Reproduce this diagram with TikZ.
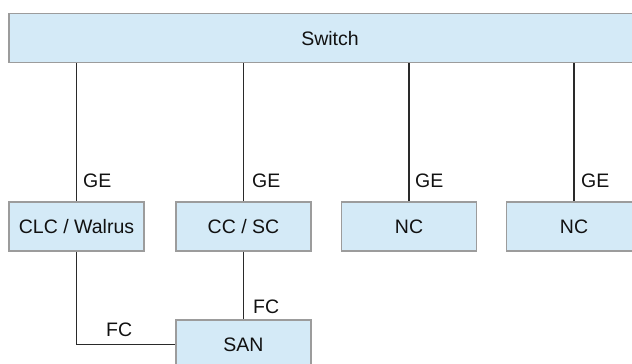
\documentclass[tikz,border=0pt]{standalone}
\usepackage{fontspec}
\setmainfont{Liberation Sans}
\definecolor{boxfill}{HTML}{D4EAF7}
\definecolor{boxline}{HTML}{9C9C9C}
\definecolor{wire}{HTML}{2A2A2A}
\definecolor{ink}{HTML}{111111}
\begin{document}
\begin{tikzpicture}[x=1pt,y=-1pt,
  box/.style={draw=boxline,line width=1.2pt,fill=boxfill,minimum width=135pt,minimum height=49pt,inner sep=0pt,text=ink,text height=14pt,text depth=0pt,font=\fontsize{19.5}{21}\selectfont},
  conn/.style={draw=wire,line width=1.4pt},
  lbl/.style={anchor=west,inner sep=0pt,text=ink,font=\fontsize{19.5}{21}\selectfont}]
\useasboundingbox (0,0) rectangle (632,364);
\clip (0,0) rectangle (632,364);
\node[box,minimum width=642pt] (sw) at (330,38) {Switch};
\node[box] (clc) at (76.5,226.5) {CLC / Walrus};
\node[box] (cc) at (243.5,226.5) {CC / SC};
\node[box] (nc1) at (409,226.5) {NC};
\node[box] (nc2) at (574,226.5) {NC};
\node[box] (san) at (243.5,344.5) {SAN};
\draw[conn] (clc.north |- sw.south) -- (clc.north);
\draw[conn] (cc.north |- sw.south) -- (cc.north);
\draw[conn] (nc1.north |- sw.south) -- (nc1.north);
\draw[conn] (nc2.north |- sw.south) -- (nc2.north);
\draw[conn] (cc.south) -- (san.north);
\draw[conn] (clc.south) |- (san.west);
\node[lbl] (ge1) at (83,181) {GE};
\node[lbl] (ge2) at (252,181) {GE};
\node[lbl] (ge3) at (415,181) {GE};
\node[lbl] (ge4) at (581,181) {GE};
\node[lbl] (fc1) at (253,307) {FC};
\node[lbl] (fc2) at (106,330) {FC};
\end{tikzpicture}
\end{document}
